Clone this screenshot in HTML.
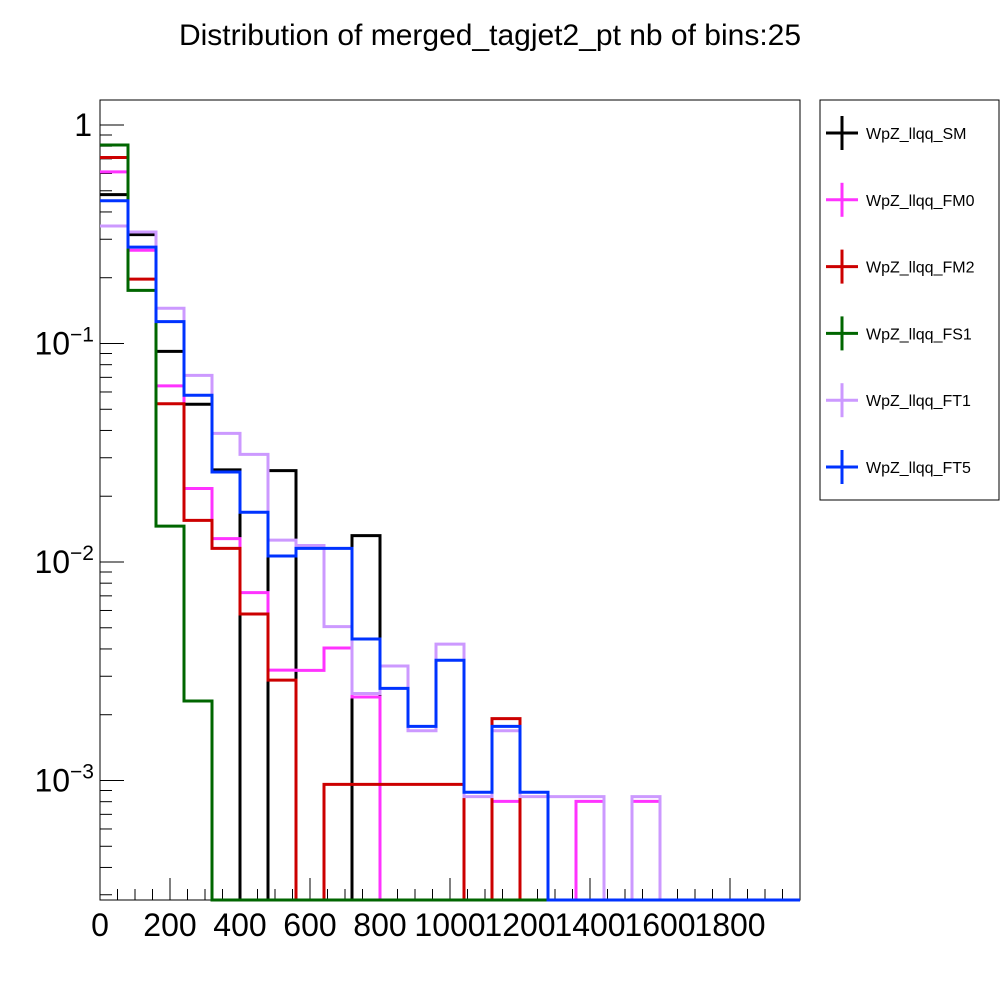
<!DOCTYPE html>
<html><head><meta charset="utf-8"><style>
body{margin:0;background:#fff;}
svg{display:block;font-family:"Liberation Sans",sans-serif;}
</style></head><body>
<svg id="chart" width="1000" height="1000" viewBox="0 0 1000 1000">
<rect x="0" y="0" width="1000" height="1000" fill="#fff"/>
<text x="490" y="45" font-size="30" text-anchor="middle">Distribution of merged_tagjet2_pt nb of bins:25</text>
<rect x="100" y="100" width="700" height="800" fill="none" stroke="#000" stroke-width="1"/>
<g id="ticks"></g>
<g id="series"></g>
<g id="legend">
<rect x="820" y="100" width="179" height="400" fill="#fff" stroke="#000" stroke-width="1"/>
</g>
</svg>
<script>
const binEdges0 = 0, binWidth = 80, nBins = 25;
const seriesNames = ["WpZ_llqq_SM","WpZ_llqq_FM0","WpZ_llqq_FM2","WpZ_llqq_FS1","WpZ_llqq_FT1","WpZ_llqq_FT5"];
const seriesColors = ["#000000","#ff33ff","#cc0000","#006600","#cc99ff","#0033ff"];
const valsSM  = [0.48,0.315,0.092,0.0527,0.0264,0,0.0262,0,0,0.0132,0,0,0,0,0,0,0,0,0,0,0,0,0,0,0];
const valsFM0 = [0.61,0.267,0.064,0.0217,0.0128,0.00724,0.0032,0.00319,0.00404,0.00241,0,0,0,0,0.000803,0,0,0.000803,0,0.000803,0,0,0,0,0];
const valsFM2 = [0.71,0.197,0.053,0.0155,0.01155,0.00578,0.00288,0,0.00096,0.00096,0.00096,0.00096,0.00096,0,0.00192,0,0,0,0,0,0,0,0,0,0];
const valsFS1 = [0.81,0.175,0.0146,0.00231,0,0,0,0,0,0,0,0,0,0,0,0,0,0,0,0,0,0,0,0,0];
const valsFT1 = [0.345,0.324,0.145,0.0715,0.0388,0.0311,0.0126,0.0119,0.00506,0.0025,0.00334,0.00169,0.00421,0.000844,0.00169,0.000844,0.000844,0.000844,0,0.000844,0,0,0,0,0];
const valsFT5 = [0.45,0.276,0.126,0.058,0.0258,0.0169,0.01065,0.01155,0.01155,0.00444,0.00264,0.00177,0.00355,0.000883,0.00177,0.000883,0,0,0,0,0,0,0,0,0];
const xTickLabels = ["0","200","400","600","800","1000","1200","1400","1600","1800"];
const yDecades = [1,0.1,0.01,0.001];
const allVals = [valsSM,valsFM0,valsFM2,valsFS1,valsFT1,valsFT5];

const X0=100,X1=800,Y0=100,Y1=900,XMAX=2000;
const yTopPx=125, decadePx=218.5;
const yMin = Math.pow(10,-(Y1-yTopPx)/decadePx);
function xs(v){return X0+(v/XMAX)*(X1-X0);}
function ys(v){if(v<=yMin)return Y1;return yTopPx-decadePx*Math.log10(v);}
const NS="http://www.w3.org/2000/svg";
function mk(t,a){const e=document.createElementNS(NS,t);for(const k in a)e.setAttribute(k,a[k]);return e;}

const tg=document.getElementById('ticks');
for(let v=0;v<XMAX;v+=50){
  const major=v%200===0;
  const l=mk('line',{x1:xs(v),x2:xs(v),y1:Y1,y2:Y1-(major?22:11),stroke:'#000','stroke-width':1});
  
  
  tg.appendChild(l);
}
xTickLabels.forEach((s,i)=>{
  const t=mk('text',{x:xs(i*200),y:936,'font-size':32,'text-anchor':'middle'});
  t.textContent=s;
  
  
  tg.appendChild(t);
});
for(let d=-4;d<=0;d++){
  for(let m=1;m<=9;m++){
    const v=m*Math.pow(10,d);
    const y=ys(v);
    if(y<Y0||y>=Y1)continue;
    const l=mk('line',{x1:X0,x2:X0+(m===1?24:12),y1:y,y2:y,stroke:'#000','stroke-width':1});
    
    
    tg.appendChild(l);
  }
}
yDecades.forEach(v=>{
  const y=ys(v);
  const t=mk('text',{x:92,y:y+11,'font-size':32,'text-anchor':'end'});
  const e=Math.round(Math.log10(v));
  if(e===0){t.textContent='1';}
  else{
    t.textContent='10';
    const sp=mk('tspan',{dy:-13,'font-size':21});sp.textContent='\u2212'+(-e);
    t.appendChild(sp);
    t.setAttribute('x',94);
  }
  
  
  tg.appendChild(t);
});
const sg=document.getElementById('series');
allVals.forEach((vals,si)=>{
  let d='M'+xs(0)+','+ys(vals[0]);
  for(let i=0;i<nBins;i++){
    const y=ys(vals[i]);
    d+=' L'+xs(i*binWidth)+','+y+' L'+xs((i+1)*binWidth)+','+y;
  }
  const p=mk('path',{d:d,fill:'none',stroke:seriesColors[si],'stroke-width':3});
  
  
  sg.appendChild(p);
});
const lg=document.getElementById('legend');
seriesNames.forEach((n,i)=>{
  const cy=133+i*66.8;
  const g=mk('g',{});
  
  
  g.appendChild(mk('line',{x1:826,x2:858,y1:cy,y2:cy,stroke:seriesColors[i],'stroke-width':3}));
  g.appendChild(mk('line',{x1:842,x2:842,y1:cy-17,y2:cy+17,stroke:seriesColors[i],'stroke-width':3}));
  const t=mk('text',{x:866,y:cy+6,'font-size':16});t.textContent=n;
  g.appendChild(t);
  lg.appendChild(g);
});
</script>
</body></html>
